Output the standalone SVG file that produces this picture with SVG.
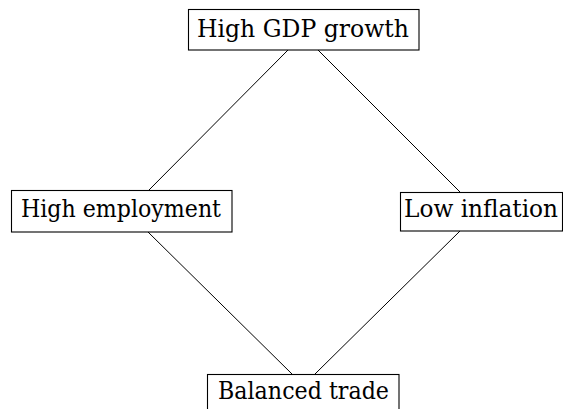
<svg xmlns="http://www.w3.org/2000/svg" width="563" height="409" viewBox="0 0 563 409">
  <style>
    .box { fill: #ffffff; stroke: #000000; stroke-width: 1.1; }
    .edge { stroke: #000000; stroke-width: 1; fill: none; }
  </style>
  <rect width="563" height="409" fill="#ffffff"/>
  <g id="connectors">
    <line class="edge" x1="288" y1="50" x2="149" y2="190"/>
    <line class="edge" x1="318" y1="50" x2="460" y2="192"/>
    <line class="edge" x1="148" y1="232" x2="292" y2="374"/>
    <line class="edge" x1="460" y1="231" x2="315" y2="374"/>
  </g>
  <g font-family="'DejaVu Serif', serif" font-size="24" fill="#000000">
    <g id="node-gdp">
      <rect class="box" x="188.5" y="9.5" width="230.5" height="40.5"/>
      <text x="197" y="37" textLength="212" lengthAdjust="spacingAndGlyphs">High GDP growth</text>
    </g>
    <g id="node-employment">
      <rect class="box" x="11.5" y="190.5" width="220.5" height="41.5"/>
      <text x="21" y="217" textLength="200" lengthAdjust="spacingAndGlyphs">High employment</text>
    </g>
    <g id="node-inflation">
      <rect class="box" x="400.5" y="192.5" width="162" height="38.5"/>
      <text x="404" y="217" textLength="154" lengthAdjust="spacingAndGlyphs">Low inflation</text>
    </g>
    <g id="node-trade">
      <rect class="box" x="207.5" y="374.5" width="191.5" height="45"/>
      <text x="218" y="399" textLength="171" lengthAdjust="spacingAndGlyphs">Balanced trade</text>
    </g>
  </g>
</svg>
